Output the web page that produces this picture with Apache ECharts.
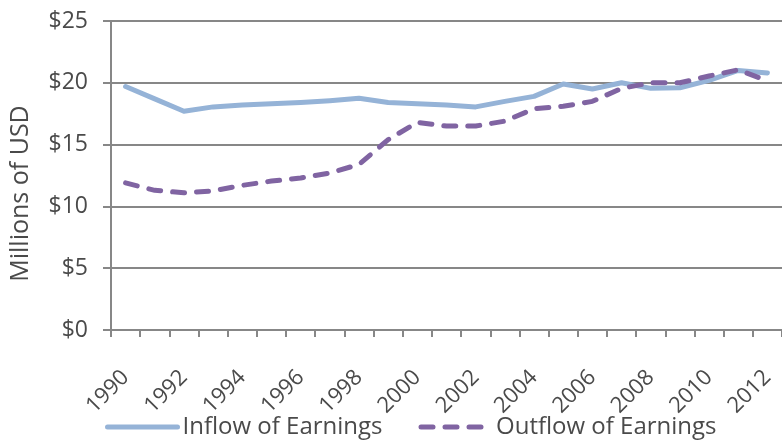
<!DOCTYPE html>
<html>
<head>
<meta charset="utf-8">
<script src="https://cdn.jsdelivr.net/npm/echarts@6/dist/echarts.min.js"></script>
<style>
  html, body { margin: 0; padding: 0; background: #fff; }
  #chart { width: 782px; height: 441px; }
</style>
</head>
<body>
<div id="chart"></div>
<script>
// years on the category axis
const years = ['1990', '1991', '1992', '1993', '1994', '1995', '1996', '1997', '1998', '1999', '2000',
  '2001', '2002', '2003', '2004', '2005', '2006', '2007', '2008', '2009', '2010', '2011', '2012']

// millions of USD
const inflow = [19.7, 18.7, 17.7, 18.05, 18.2, 18.3, 18.4, 18.55, 18.75, 18.4, 18.3,
  18.2, 18.05, 18.5, 18.9, 19.9, 19.5, 20.0, 19.55, 19.6, 20.2, 21.0, 20.8]
const outflow = [11.9, 11.3, 11.1, 11.25, 11.7, 12.05, 12.3, 12.7, 13.4, 15.4, 16.8,
  16.5, 16.5, 16.9, 17.9, 18.1, 18.5, 19.55, 20.0, 20.0, 20.55, 21.05, 20.15]

const textColor = '#4a4a4a'
const gridColor = '#878787'
const fontFamily = '"Open Sans", sans-serif'

const chart = echarts.init(document.getElementById('chart'))

chart.setOption({
  animation: false,
  backgroundColor: '#fff',
  textStyle: { fontFamily: fontFamily, color: textColor },
  grid: { left: 111, right: 0, top: 21, bottom: 111 },
  legend: {
    bottom: -3,
    left: 100,
    itemWidth: 70,
    itemHeight: 14,
    itemGap: 36,
    itemStyle: { opacity: 0 },
    lineStyle: { width: 5, cap: 'round' },
    textStyle: { fontSize: 24, color: textColor, fontFamily: fontFamily },
    data: ['Inflow of Earnings', 'Outflow of Earnings'],
  },
  xAxis: {
    type: 'category',
    data: years,
    boundaryGap: true,
    axisLine: { lineStyle: { color: gridColor, width: 2 } },
    axisTick: { show: true, interval: 0, length: 7, lineStyle: { color: gridColor, width: 2 } },
    axisLabel: {
      interval: 1,
      rotate: 45,
      fontSize: 22,
      color: textColor,
      margin: 44,
    },
  },
  yAxis: {
    type: 'value',
    min: 0,
    max: 25,
    interval: 5,
    name: 'Millions of USD',
    nameLocation: 'middle',
    nameGap: 78,
    nameTextStyle: { fontSize: 25, color: textColor, padding: [0, 36, 0, 0] },
    axisLine: { show: true, lineStyle: { color: gridColor, width: 2 } },
    axisTick: { show: true, length: 8, lineStyle: { color: gridColor, width: 2 } },
    axisLabel: {
      formatter: '${value}',
      fontSize: 23,
      color: textColor,
      margin: 23,
    },
    splitLine: { lineStyle: { color: gridColor, width: 2 } },
  },
  series: [
    {
      name: 'Inflow of Earnings',
      type: 'line',
      data: inflow,
      symbol: 'none',
      lineStyle: { color: '#95b3d7', width: 5, cap: 'round', join: 'round' },
      itemStyle: { color: '#95b3d7' },
    },
    {
      name: 'Outflow of Earnings',
      type: 'line',
      data: outflow,
      symbol: 'none',
      lineStyle: { color: '#8064a2', width: 5, type: [12, 12], cap: 'round', join: 'round' },
      itemStyle: { color: '#8064a2' },
    },
  ],
})
</script>
</body>
</html>
